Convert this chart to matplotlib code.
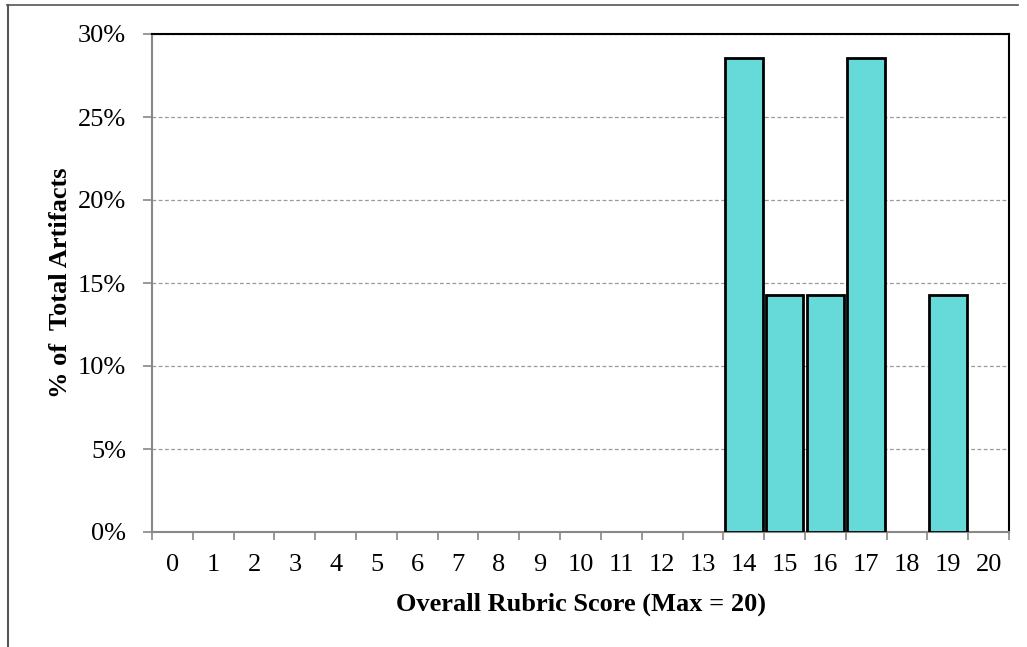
import matplotlib.pyplot as plt
from matplotlib.lines import Line2D
import numpy as np

scores = list(range(21))
pct = [0, 0, 0, 0, 0, 0, 0, 0, 0, 0, 0, 0, 0, 0,
       28.57, 14.29, 14.29, 28.57, 0, 14.29, 0]
yticks = [0, 5, 10, 15, 20, 25, 30]

plt.rcParams['font.family'] = ['Liberation Serif', 'DejaVu Serif']

fig = plt.figure(figsize=(10.27, 6.47), dpi=100)
ax = fig.add_axes([152 / 1027, 1 - 532 / 647, 857 / 1027, 498 / 647])

x = np.array(scores)
h = np.array(pct)
mask = h > 0
ax.bar(x[mask], h[mask], width=0.92, color="#66D9D9", edgecolor="black",
       linewidth=2, zorder=3)

ax.set_xlim(-0.5, 20.5)
ax.set_ylim(0, 30)
ax.set_yticks(yticks)
ax.set_yticklabels([f"{v}%" for v in yticks], fontsize=19)
ax.set_xticks(x)
ax.set_xticklabels([str(s) for s in scores], fontsize=19)
ax.set_xticks(np.arange(-0.5, 21, 1), minor=True)
ax.tick_params(axis='x', which='major', length=0, pad=16)
ax.tick_params(axis='x', which='minor', length=6, color="#888888", width=1.2)
ax.tick_params(axis='y', length=6.5, color="#888888", width=1.2, pad=12)

ax.grid(axis='y', color="#999999", linestyle=(0, (3, 2)), linewidth=0.9, zorder=0)
for s in ['left', 'bottom']:
    ax.spines[s].set_color("#888888")
    ax.spines[s].set_linewidth(1.5)
for s in ['top', 'right']:
    ax.spines[s].set_color("black")
    ax.spines[s].set_linewidth(1.5)

ax.set_xlabel("Overall Rubric Score (Max = 20)", fontsize=19, fontweight='bold', labelpad=11.5)
ax.set_ylabel("% of  Total Artifacts", fontsize=19, fontweight='bold', labelpad=4.5)

# outer frame (top and left edges)
fig.add_artist(Line2D([7 / 1027, 1018 / 1027], [1 - 5 / 647, 1 - 5 / 647],
                      transform=fig.transFigure, color="#555555", linewidth=1.2))
fig.add_artist(Line2D([8 / 1027, 8 / 1027], [0, 1 - 5 / 647],
                      transform=fig.transFigure, color="#555555", linewidth=1.5))

plt.savefig("out.png", dpi=100)
